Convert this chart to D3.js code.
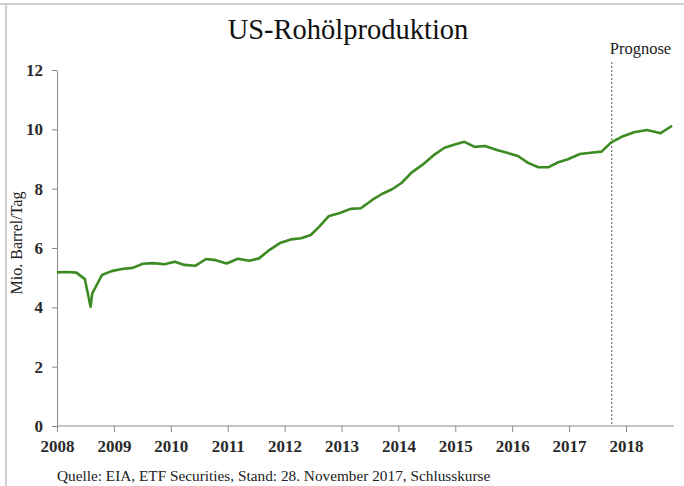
<!DOCTYPE html>
<html>
<head>
<meta charset="utf-8">
<script src="https://cdn.jsdelivr.net/npm/d3@7"></script>
<style>
  body { margin: 0; background: #fff; }
  svg { display: block; }
  .axis path, .axis line { stroke: #8a8a8a; }
  .axis text { font-family: "Liberation Serif", serif; fill: #2a2a2a; font-weight: bold; }
</style>
</head>
<body>
<div id="chart"></div>
<script>
// Zeitpunkte (Dezimaljahre) und Fördermenge in Mio. Barrel/Tag
var times = [2008.00, 2008.17, 2008.34, 2008.49, 2008.59, 2008.62, 2008.79, 2008.96,
  2009.14, 2009.33, 2009.51, 2009.69, 2009.89, 2010.07, 2010.24, 2010.43, 2010.62,
  2010.79, 2010.98, 2011.18, 2011.38, 2011.55, 2011.73, 2011.93, 2012.11, 2012.29,
  2012.46, 2012.61, 2012.78, 2012.96, 2013.16, 2013.34, 2013.54, 2013.71, 2013.89,
  2014.06, 2014.23, 2014.42, 2014.62, 2014.81, 2014.99, 2015.16, 2015.34, 2015.52,
  2015.73, 2015.91, 2016.10, 2016.28, 2016.46, 2016.63, 2016.81, 2016.98, 2017.19,
  2017.38, 2017.57, 2017.74, 2017.95, 2018.14, 2018.37, 2018.61, 2018.81];
var production = [5.18, 5.19, 5.17, 4.95, 4.02, 4.47, 5.09, 5.22,
  5.29, 5.33, 5.47, 5.49, 5.45, 5.54, 5.43, 5.40, 5.63,
  5.59, 5.48, 5.64, 5.57, 5.65, 5.93, 6.18, 6.29, 6.33,
  6.44, 6.72, 7.08, 7.17, 7.32, 7.34, 7.62, 7.82, 7.98,
  8.20, 8.54, 8.80, 9.13, 9.38, 9.49, 9.58, 9.41, 9.44,
  9.30, 9.21, 9.10, 8.87, 8.72, 8.72, 8.89, 8.99, 9.17,
  9.21, 9.25, 9.56, 9.77, 9.90, 9.98, 9.87, 10.12];
var yearTicks = [2008, 2009, 2010, 2011, 2012, 2013, 2014, 2015, 2016, 2017, 2018];
var valueTicks = [0, 2, 4, 6, 8, 10, 12];
var forecastStart = 2017.75;

var width = 684, height = 486;

var svg = d3.select('#chart')
  .append('svg')
  .attr('width', width)
  .attr('height', height);

// Rahmen oben und links
svg.append('line').attr('x1', 0).attr('x2', width).attr('y1', 4).attr('y2', 4)
  .attr('stroke', '#cfcfcf').attr('stroke-width', 2);
svg.append('line').attr('x1', 6).attr('x2', 6).attr('y1', 4).attr('y2', height)
  .attr('stroke', '#cfcfcf').attr('stroke-width', 2);

var xScale = d3.scaleLinear().domain([2008, 2018]).range([57, 626]);
var yScale = d3.scaleLinear().domain([0, 12]).range([426, 70]);

var xEnd = 674;

// X-Achse
var xAxis = d3.axisBottom(xScale).tickValues(yearTicks)
  .tickFormat(d3.format('d')).tickSize(6).tickSizeOuter(0).tickPadding(8);
var gx = svg.append('g').attr('class', 'axis')
  .attr('transform', 'translate(0,426)')
  .call(xAxis);
gx.select('.domain').attr('d', 'M57,0H' + xEnd);
gx.selectAll('text').style('font-size', '17px');

// Y-Achse
var yAxis = d3.axisLeft(yScale).tickValues(valueTicks)
  .tickSize(5).tickSizeOuter(0).tickPadding(9);
var gy = svg.append('g').attr('class', 'axis')
  .attr('transform', 'translate(57,0)')
  .call(yAxis);
gy.selectAll('text').style('font-size', '17px');

// Prognose-Linie
svg.append('line')
  .attr('x1', xScale(forecastStart)).attr('x2', xScale(forecastStart))
  .attr('y1', 62).attr('y2', 426)
  .attr('stroke', '#555').attr('stroke-width', 1)
  .attr('stroke-dasharray', '2,2');

svg.append('text')
  .attr('x', xScale(forecastStart) - 2).attr('y', 54)
  .attr('font-family', 'Liberation Serif, serif').attr('font-size', 16.5)
  .attr('fill', '#222')
  .text('Prognose');

// Datenlinie
var points = times.map(function (t, i) { return [t, production[i]]; });
var line = d3.line()
  .x(function (d) { return xScale(d[0]); })
  .y(function (d) { return yScale(d[1]); });

svg.append('path')
  .datum(points)
  .attr('d', line)
  .attr('fill', 'none')
  .attr('stroke', '#3b8a22')
  .attr('stroke-width', 2.6)
  .attr('stroke-linejoin', 'round');

// Titel
svg.append('text')
  .attr('x', 348).attr('y', 39)
  .attr('text-anchor', 'middle')
  .attr('font-family', 'Liberation Serif, serif').attr('font-size', 28.5)
  .attr('fill', '#111')
  .text('US-Rohölproduktion');

// Y-Achsentitel
svg.append('text')
  .attr('transform', 'translate(22,243) rotate(-90)')
  .attr('text-anchor', 'middle')
  .attr('font-family', 'Liberation Serif, serif').attr('font-size', 16)
  .attr('fill', '#222')
  .text('Mio. Barrel/Tag');

// Quelle
svg.append('text')
  .attr('x', 57).attr('y', 481)
  .attr('font-family', 'Liberation Serif, serif').attr('font-size', 15.3)
  .attr('fill', '#222')
  .text('Quelle: EIA, ETF Securities, Stand: 28. November 2017, Schlusskurse');
</script>
</body>
</html>
